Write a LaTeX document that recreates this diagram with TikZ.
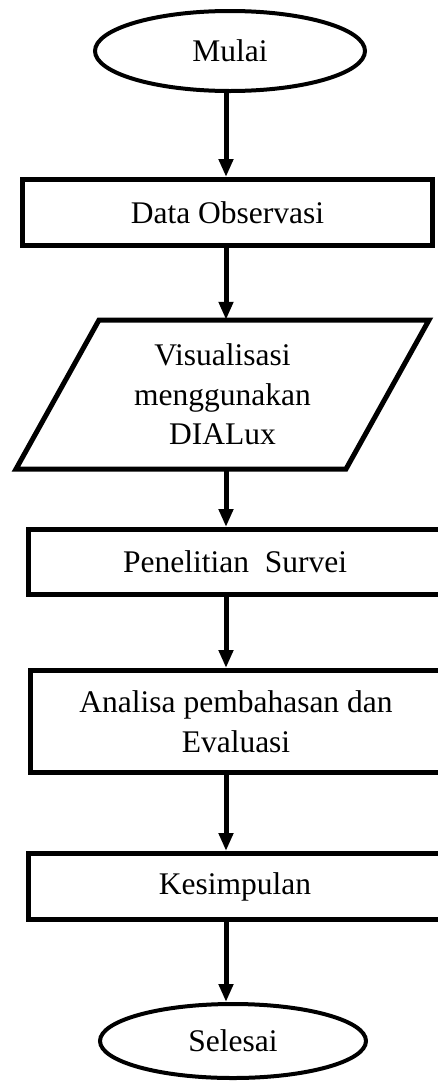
\documentclass[tikz,border=0pt]{standalone}
\usepackage{fontspec}
\setmainfont{Liberation Serif}
\usetikzlibrary{shapes.geometric,arrows.meta}
\begin{document}
\begin{tikzpicture}[x=1pt,y=-1pt,
  txt/.style={font=\fontsize{31.5}{39.5}\selectfont,align=center},
  box/.style={txt,draw,line width=5pt,rectangle,inner sep=0pt},
  term/.style={txt,draw,line width=4pt,ellipse,inner sep=0pt},
  io/.style={txt,draw=none,inner sep=0pt},
  arr/.style={line width=5pt,-{Triangle[length=18pt 0,width=14pt 0]}}]
\useasboundingbox (0,0) rectangle (437,1082);
\coordinate (ax) at (226,0);
\node[term,minimum width=270pt,minimum height=80pt] (mulai) at (230,51) {Mulai};
\node[box,minimum width=410pt,minimum height=66pt] (data) at (227.5,212.5) {Data Observasi};
\node[io,minimum width=330pt,minimum height=149pt] (vis) at (222.5,394.5) {Visualisasi\\menggunakan\\DIALux};
\draw[line width=5pt,line join=miter] (99,320) -- (429,320) -- (346,469) -- (16,469) -- cycle;
\node[box,minimum width=414pt,minimum height=65pt] (pen) at (235,562) {Penelitian\ \ Survei};
\node[box,minimum width=411pt,minimum height=102pt] (ana) at (236,721.5) {Analisa pembahasan dan\\Evaluasi};
\node[box,minimum width=414pt,minimum height=66pt] (kes) at (235,886.5) {Kesimpulan};
\node[term,minimum width=266pt,minimum height=74pt] (sel) at (233,1041) {Selesai};
\draw[arr] (mulai.south -| ax) -- (data.north -| ax);
\draw[arr] (data.south -| ax) -- (vis.north -| ax);
\draw[arr] (vis.south -| ax) -- (pen.north -| ax);
\draw[arr] (pen.south -| ax) -- (ana.north -| ax);
\draw[arr] (ana.south -| ax) -- (kes.north -| ax);
\draw[arr] (kes.south -| ax) -- (sel.north -| ax);
\end{tikzpicture}
\end{document}
